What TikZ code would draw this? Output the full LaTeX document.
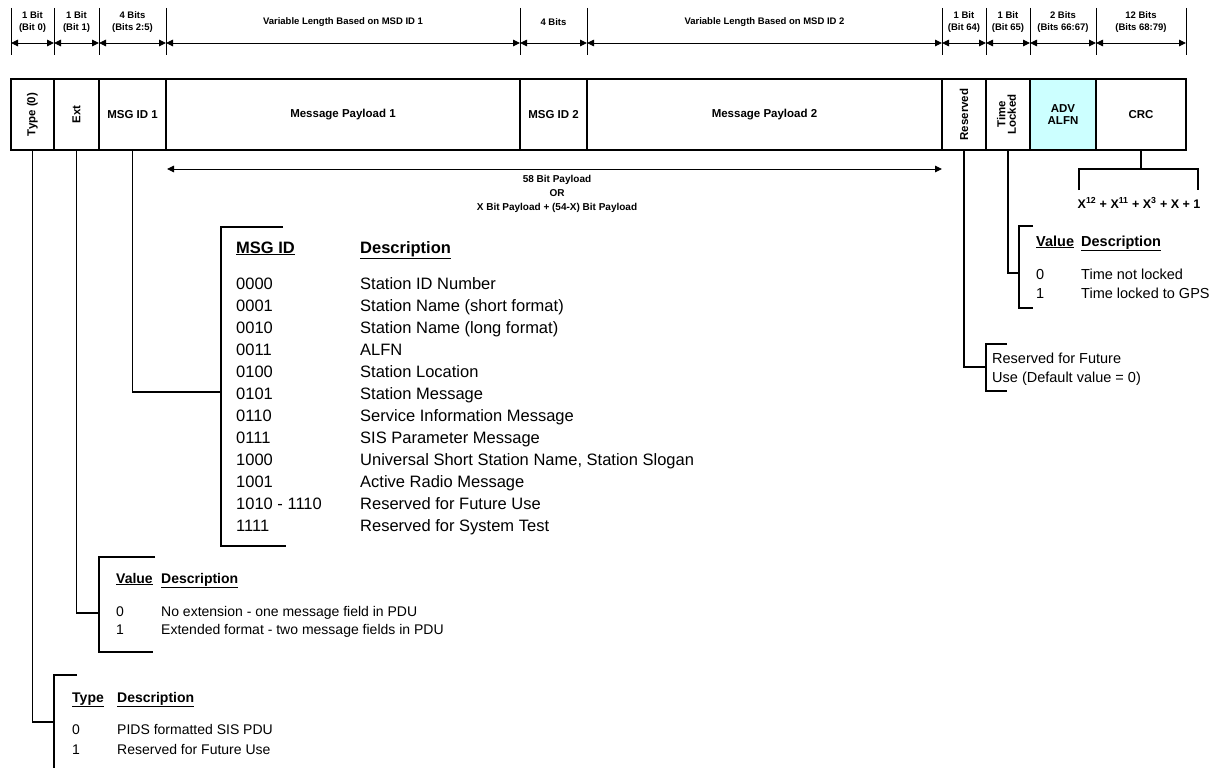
\documentclass[tikz,border=0pt]{standalone}
\usepackage{fontspec}
\setmainfont{Liberation Sans}
\usepackage{graphicx}
\usetikzlibrary{arrows.meta, positioning, calc}
\definecolor{alfncyan}{RGB}{204, 255, 255}

\tikzset{
  field/.style={draw, line width=1.8pt, minimum height=71pt, inner sep=0pt,
    outer sep=0pt, anchor=north west, align=center,
    font=\bfseries\fontsize{11.5}{12.5}\selectfont},
  dimarrow/.style={{Triangle[length=7pt,width=6.5pt]}-{Triangle[length=7pt,width=6.5pt]},
    line width=0.9pt},
  hdr/.style={align=center, inner sep=0pt, font=\bfseries\fontsize{9.5}{12}\selectfont},
  wire/.style={line width=1.1pt},
  tbl/.style={anchor=base west, inner sep=0pt, font=\fontsize{14.5}{17}\selectfont},
  bigtbl/.style={anchor=base west, inner sep=0pt, font=\fontsize{16.5}{20}\selectfont},
}

\begin{document}
\begin{tikzpicture}[x=1pt, y=-1pt]
  \useasboundingbox (0,0) rectangle (1215,768);

  % ── Bit-width ticks and dimension arrows ─────────────────────────────────
  \foreach \tx in {11,54,99,166,520,587,942,986,1030,1096,1186} {
    \draw[line width=0.8pt] (\tx,8) -- (\tx,55);
  }
  \foreach \xl/\xr/\lbl in {11/54/{1 Bit\\(Bit 0)}, 54/99/{1 Bit\\(Bit 1)},
      99/166/{4 Bits\\(Bits 2:5)}, 166/520/{Variable Length Based on MSD ID 1},
      520/587/{4 Bits}, 587/942/{Variable Length Based on MSD ID 2},
      942/986/{1 Bit\\(Bit 64)}, 986/1030/{1 Bit\\(Bit 65)},
      1030/1096/{2 Bits\\(Bits 66:67)}, 1096/1186/{12 Bits\\(Bits 68:79)}} {
    \draw[dimarrow] (\xl,43) -- (\xr,43);
    \node[hdr] at ({(\xl+\xr)/2},22) {\lbl};
  }

  % ── PDU fields ───────────────────────────────────────────────────────────
  \node[field, minimum width=43] (type) at (11,79) {\rotatebox{90}{Type (0)}};
  \node[field, minimum width=45] (ext)  at (54,79) {\rotatebox{90}{Ext}};
  \node[field, minimum width=67] (msgA) at (99,79) {MSG ID 1};
  \node[field, minimum width=354] (payA) at (166,79) {Message Payload 1};
  \node[field, minimum width=67] (msgB) at (520,79) {MSG ID 2};
  \node[field, minimum width=355] (payB) at (587,79) {Message Payload 2};
  \node[field, minimum width=44] (resv) at (942,79) {\rotatebox{90}{Reserved}};
  \node[field, minimum width=44] (tlock) at (986,79)
    {\rotatebox{90}{\begin{tabular}{@{}c@{}}Time\\[-2pt]Locked\end{tabular}}};
  \node[field, minimum width=66, fill=alfncyan] (alfn) at (1030,79) {ADV\\ALFN};
  \node[field, minimum width=90] (crc) at (1096,79) {CRC};

  % ── Payload span ─────────────────────────────────────────────────────────
  \coordinate (spanL) at ($(payA.south west)+(1,19)$);
  \coordinate (spanR) at ($(resv.south west)+(0,19)$);
  \draw[dimarrow] (spanL) -- (spanR);
  \node[hdr, font=\bfseries\fontsize{10}{14}\selectfont] (span) at (557,194)
    {58 Bit Payload\\OR\\X Bit Payload + (54-X) Bit Payload};

  % ── CRC polynomial ───────────────────────────────────────────────────────
  \coordinate (crcbr) at (1141,169);
  \draw[wire] (crc.south) -- (crcbr);
  \draw[wire] (1079,190) -- (1079,169) -- (1198,169) -- (1198,190);
  \node[inner sep=0pt, font=\bfseries\fontsize{12.5}{14}\selectfont] (poly) at (1139,203)
    {X\textsuperscript{12} + X\textsuperscript{11} + X\textsuperscript{3} + X + 1};

  % ── Time locked table ────────────────────────────────────────────────────
  \coordinate (tlkbr) at (1019,273);
  \draw[wire] (tlock.south) |- (tlkbr);
  \draw[wire] (1033,226) -- (1019,226) -- (1019,308) -- (1033,308);
  \node[tbl, font=\bfseries\fontsize{14.5}{17}\selectfont] (tlkval) at (1036,246) {\underline{Value}};
  \node[tbl, font=\bfseries\fontsize{14.5}{17}\selectfont] (tlkdsc) at (1081,246) {\underline{Description}};
  \node[tbl] (tlk0) at (1036,279) {0};
  \node[tbl] (tlk0d) at (1081,279) {Time not locked};
  \node[tbl] (tlk1) at (1036,298) {1};
  \node[tbl] (tlk1d) at (1081,298) {Time locked to GPS};

  % ── Reserved note ────────────────────────────────────────────────────────
  \coordinate (rsvbr) at (986,367);
  \draw[wire] (resv.south) |- (rsvbr);
  \draw[wire] (1007,344) -- (986,344) -- (986,391) -- (1007,391);
  \node[tbl] (rsv1) at (992,363) {Reserved for Future};
  \node[tbl] (rsv2) at (992,382) {Use (Default value = 0)};

  % ── MSG ID table ─────────────────────────────────────────────────────────
  \coordinate (msgbr) at (221,392);
  \draw[wire] (msgA.south) |- (msgbr);
  \draw[wire] (283,227) -- (221,227) -- (221,546) -- (286,546);
  \node[bigtbl, font=\bfseries\fontsize{16.5}{20}\selectfont] (msghd) at (236,253) {\underline{MSG ID}};
  \node[bigtbl, font=\bfseries\fontsize{16.5}{20}\selectfont] (dschd) at (360,253) {\underline{Description}};
  \foreach \code/\desc [count=\i from 0] in {0000/Station ID Number,
      0001/Station Name (short format), 0010/Station Name (long format),
      0011/ALFN, 0100/Station Location, 0101/Station Message,
      0110/Service Information Message, 0111/SIS Parameter Message,
      1000/{Universal Short Station Name, Station Slogan},
      1001/Active Radio Message, 1010 - 1110/Reserved for Future Use,
      1111/Reserved for System Test} {
    \node[bigtbl] (id\i) at (236,{289+22*\i}) {\code};
    \node[bigtbl] (desc\i) at (360,{289+22*\i}) {\desc};
  }

  % ── Ext table ────────────────────────────────────────────────────────────
  \coordinate (extbr) at (99,613);
  \draw[wire] (ext.south) |- (extbr);
  \draw[wire] (155,557) -- (99,557) -- (99,652) -- (153,652);
  \node[tbl, font=\bfseries\fontsize{14}{17}\selectfont] (extval) at (116,583) {\underline{Value}};
  \node[tbl, font=\bfseries\fontsize{14}{17}\selectfont] (extdsc) at (161,583) {\underline{Description}};
  \node[tbl, font=\fontsize{14}{17}\selectfont] (ext0) at (116,616) {0};
  \node[tbl, font=\fontsize{14}{17}\selectfont] (ext0d) at (161,616) {No extension - one message field in PDU};
  \node[tbl, font=\fontsize{14}{17}\selectfont] (ext1) at (116,634) {1};
  \node[tbl, font=\fontsize{14}{17}\selectfont] (ext1d) at (161,634) {Extended format - two message fields in PDU};

  % ── Type table ───────────────────────────────────────────────────────────
  \coordinate (typbr) at (54,722);
  \draw[wire] (type.south) |- (typbr);
  \draw[wire] (77,675) -- (54,675) -- (54,768);
  \node[tbl, font=\bfseries\fontsize{14}{17}\selectfont] (typval) at (72,702) {\underline{Type}};
  \node[tbl, font=\bfseries\fontsize{14}{17}\selectfont] (typdsc) at (117,702) {\underline{Description}};
  \node[tbl, font=\fontsize{14}{17}\selectfont] (typ0) at (72,734) {0};
  \node[tbl, font=\fontsize{14}{17}\selectfont] (typ0d) at (117,734) {PIDS formatted SIS PDU};
  \node[tbl, font=\fontsize{14}{17}\selectfont] (typ1) at (72,754) {1};
  \node[tbl, font=\fontsize{14}{17}\selectfont] (typ1d) at (117,754) {Reserved for Future Use};
\end{tikzpicture}
\end{document}
